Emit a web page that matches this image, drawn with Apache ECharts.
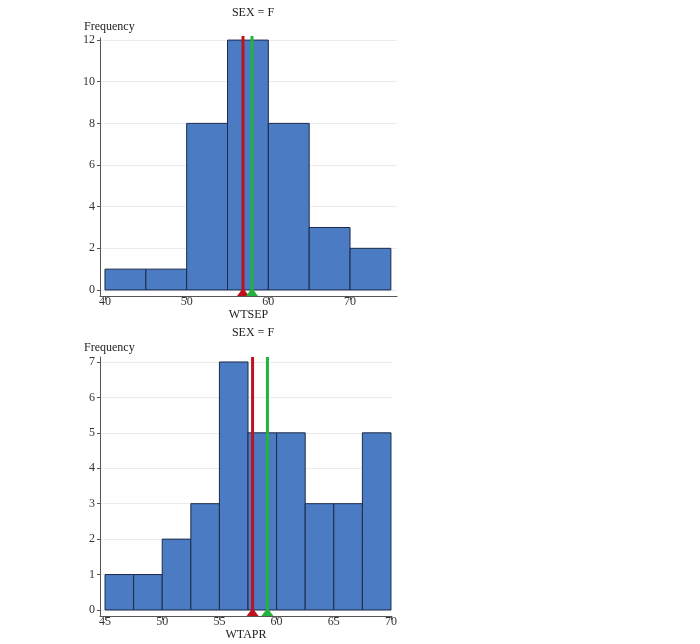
<!DOCTYPE html>
<html><head><meta charset="utf-8">
<script src="https://cdn.jsdelivr.net/npm/echarts@6/dist/echarts.min.js"></script>
<style>html,body{margin:0;padding:0;background:#fff}#c{width:700px;height:644px}</style>
</head><body><div id="c"></div>
<script>
const topBinStarts = [40, 45, 50, 55, 60, 65, 70];
const topCounts = [1, 1, 8, 12, 8, 3, 2];
const topBinWidth = 5;
const topMean = 56.9;
const topMedian = 58.0;
const topXTicks = [40, 50, 60, 70];
const topYTicks = [0, 2, 4, 6, 8, 10, 12];

const botBinStarts = [45, 47.5, 50, 52.5, 55, 57.5, 60, 62.5, 65, 67.5];
const botCounts = [1, 1, 2, 3, 7, 5, 5, 3, 3, 5];
const botBinWidth = 2.5;
const botMean = 57.9;
const botMedian = 59.2;
const botXTicks = [45, 50, 55, 60, 65, 70];
const botYTicks = [0, 1, 2, 3, 4, 5, 6, 7];

const FONT = '"Liberation Serif", "DejaVu Serif", serif';
const barFill = '#4a7bc3', barStroke = '#1c2b4a';
const redC = '#c0121e', greenC = '#23b33c';

function bins(starts, counts, w){ return starts.map((s,i)=>[s, s+w, counts[i]]); }

function barItem(params, api){
  const p0 = api.coord([api.value(0), 0]);
  const p1 = api.coord([api.value(1), api.value(2)]);
  return {type:'rect', shape:{x:p0[0], y:p1[1], width:p1[0]-p0[0], height:p0[1]-p1[1]},
    style:{fill:barFill, stroke:barStroke, lineWidth:1}};
}
function refItem(color, above){
  return function(params, api){
    const p1 = api.coord([api.value(0), api.value(1)]);
    const x = p1[0];
    const yb = params.coordSys.y + params.coordSys.height;
    const yt = p1[1] - above;
    return {type:'group', children:[
      {type:'line', shape:{x1:x, y1:yt, x2:x, y2:yb}, style:{stroke:color, lineWidth:3}},
      {type:'polygon', shape:{points:[[x-6,yb],[x+6,yb],[x,yb-8]]}, style:{fill:color}}
    ]};
  };
}

const axisLineStyle = {show:true, onZero:false, lineStyle:{color:'#555', width:1}};
const labelStyle = {fontFamily:FONT, fontSize:12, color:'#333'};
const titleStyle = {fontFamily:FONT, fontSize:12, fontWeight:'normal', color:'#222'};

function xAx(idx, min, max, ticks, name, gap){
  return {gridIndex:idx, type:'value', min:min, max:max, axisLine:axisLineStyle,
    axisTick:{show:true, length:4, customValues:ticks, lineStyle:{color:'#555'}},
    axisLabel:Object.assign({customValues:ticks, margin:0}, labelStyle),
    splitLine:{show:false},
    name:name, nameLocation:'middle', nameGap:gap, nameTextStyle:{fontFamily:FONT, fontSize:12, color:'#222'}};
}
function yAx(idx, min, max, ticks){
  return {gridIndex:idx, type:'value', min:min, max:max, axisLine:axisLineStyle,
    axisTick:{show:true, length:3, customValues:ticks, lineStyle:{color:'#555'}},
    axisLabel:Object.assign({customValues:ticks, margin:5}, labelStyle),
    splitLine:{show:true, lineStyle:{color:'#ebebeb'}}};
}

const chart = echarts.init(document.getElementById('c'), null, {renderer:'canvas'});
chart.setOption({
  animation:false,
  title:[
    {text:'SEX = F', left:248, top:2, textAlign:'center', textStyle:titleStyle},
    {text:'SEX = F', left:248, top:322, textAlign:'center', textStyle:titleStyle}
  ],
  graphic:[
    {type:'text', left:84, top:21, style:{text:'Frequency', font:'12px ' + FONT, fill:'#222'}},
    {type:'text', left:84, top:342, style:{text:'Frequency', font:'12px ' + FONT, fill:'#222'}}
  ],
  grid:[
    {left:100, top:38, width:297, height:258},
    {left:100, top:357, width:292, height:259}
  ],
  xAxis:[
    xAx(0, 39.39, 75.75, topXTicks, 'WTSEP', 13),
    xAx(1, 44.56, 70.09, botXTicks, 'WTAPR', 12)
  ],
  yAxis:[
    yAx(0, -0.29, 12.1, topYTicks),
    yAx(1, -0.17, 7.14, botYTicks)
  ],
  series:[
    {type:'custom', xAxisIndex:0, yAxisIndex:0, renderItem:barItem, encode:{x:[0,1], y:2}, data:bins(topBinStarts, topCounts, topBinWidth)},
    {type:'custom', xAxisIndex:0, yAxisIndex:0, clip:false, renderItem:refItem(redC, 4), encode:{x:0, y:1}, data:[[topMean, 12]]},
    {type:'custom', xAxisIndex:0, yAxisIndex:0, clip:false, renderItem:refItem(greenC, 4), encode:{x:0, y:1}, data:[[topMedian, 12]]},
    {type:'custom', xAxisIndex:1, yAxisIndex:1, renderItem:barItem, encode:{x:[0,1], y:2}, data:bins(botBinStarts, botCounts, botBinWidth)},
    {type:'custom', xAxisIndex:1, yAxisIndex:1, clip:false, renderItem:refItem(redC, 5), encode:{x:0, y:1}, data:[[botMean, 7]]},
    {type:'custom', xAxisIndex:1, yAxisIndex:1, clip:false, renderItem:refItem(greenC, 5), encode:{x:0, y:1}, data:[[botMedian, 7]]}
  ]
});
</script></body></html>
